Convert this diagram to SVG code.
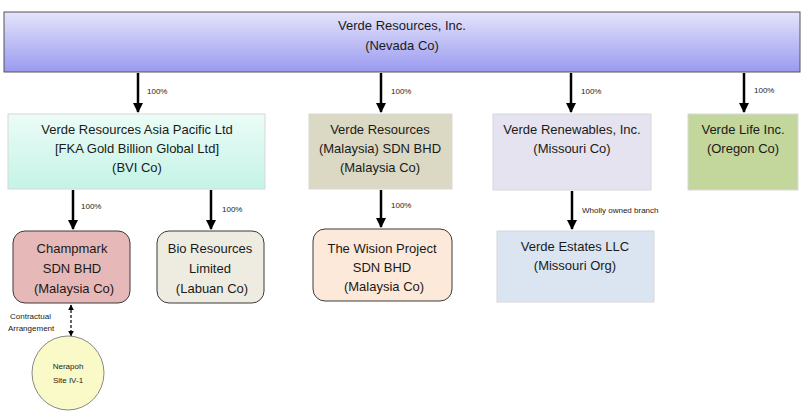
<svg xmlns="http://www.w3.org/2000/svg" width="806" height="417" viewBox="0 0 806 417">
<style>
text{font-family:"Liberation Sans",Arial,sans-serif;fill:#1a1a1a}
.t{font-size:13px;text-anchor:middle}
.s{font-size:8px}
.c{stroke:#000;stroke-width:2.5;fill:none}
.box{stroke:#d8d8d8;stroke-width:1}
.rb{stroke:#3a3a3a;stroke-width:1}
</style>
<defs>
<linearGradient id="gTop" x1="0" y1="0" x2="0" y2="1"><stop offset="0" stop-color="#e4e4fb"/><stop offset="1" stop-color="#9a9af0"/></linearGradient>
<linearGradient id="gAsia" x1="0" y1="0" x2="0" y2="1"><stop offset="0" stop-color="#ecfcf7"/><stop offset="1" stop-color="#c4f3e6"/></linearGradient>
<marker id="ah" viewBox="0 0 10 10" refX="9" refY="5" markerWidth="4" markerHeight="4" orient="auto"><path d="M0,0 L10,5 L0,10 z" fill="#000"/></marker>
<marker id="ahs" viewBox="0 0 10 10" refX="9" refY="5" markerWidth="5" markerHeight="5" orient="auto-start-reverse"><path d="M0,0 L10,5 L0,10 z" fill="#000"/></marker>
</defs>
<rect width="806" height="417" fill="#fff"/>
<g id="connectors">
<line class="c" x1="138" y1="73" x2="138" y2="112" marker-end="url(#ah)"/>
<line class="c" x1="381" y1="73" x2="381" y2="112" marker-end="url(#ah)"/>
<line class="c" x1="571" y1="73" x2="571" y2="112" marker-end="url(#ah)"/>
<line class="c" x1="744" y1="73" x2="744" y2="112" marker-end="url(#ah)"/>
<line class="c" x1="73" y1="190" x2="73" y2="229" marker-end="url(#ah)"/>
<line class="c" x1="211" y1="190" x2="211" y2="229" marker-end="url(#ah)"/>
<line class="c" x1="381" y1="190" x2="381" y2="227" marker-end="url(#ah)"/>
<line class="c" x1="572" y1="191" x2="572" y2="229" marker-end="url(#ah)"/>
<line x1="71" y1="305" x2="71" y2="336" stroke="#000" stroke-width="1.2" stroke-dasharray="3,2" marker-start="url(#ahs)" marker-end="url(#ahs)"/>
<text class="s" x="147" y="94">100%</text>
<text class="s" x="391" y="94">100%</text>
<text class="s" x="581" y="94">100%</text>
<text class="s" x="754" y="93">100%</text>
<text class="s" x="81" y="209">100%</text>
<text class="s" x="222" y="212">100%</text>
<text class="s" x="391" y="208">100%</text>
<text class="s" x="582" y="213">Wholly owned branch</text>
<text class="s" x="10" y="319">Contractual</text>
<text class="s" x="8" y="331">Arrangement</text>
</g>
<g id="n-verde"><rect x="4" y="12" width="796" height="60" fill="url(#gTop)" stroke="#555" stroke-width="1"/><text class="t" x="402" y="30" font-size="14">Verde Resources, Inc.</text><text class="t" x="402" y="50" font-size="14">(Nevada Co)</text></g>
<g id="n-asia"><rect class="box" x="8" y="114" width="257" height="75" fill="url(#gAsia)"/><text class="t" x="137" y="134">Verde Resources Asia Pacific Ltd</text><text class="t" x="137" y="153">[FKA Gold Billion Global Ltd]</text><text class="t" x="137" y="172">(BVI Co)</text></g>
<g id="n-malaysia"><rect class="box" x="309" y="114" width="143" height="75" fill="#dbd8c3"/><text class="t" x="380" y="134">Verde Resources</text><text class="t" x="380" y="153">(Malaysia) SDN BHD</text><text class="t" x="380" y="172">(Malaysia Co)</text></g>
<g id="n-renew"><rect class="box" x="493" y="114" width="158" height="76" fill="#e5e3ef"/><text class="t" x="572" y="134">Verde Renewables, Inc.</text><text class="t" x="572" y="153">(Missouri Co)</text></g>
<g id="n-life"><rect class="box" x="688" y="114" width="110" height="76" fill="#c3d69b"/><text class="t" x="743" y="134">Verde Life Inc.</text><text class="t" x="743" y="153">(Oregon Co)</text></g>
<g id="n-champ"><rect class="rb" x="13" y="231" width="117" height="72" rx="12" fill="#e6b9b8"/><text class="t" x="72" y="253">Champmark</text><text class="t" x="72" y="273">SDN BHD</text><text class="t" x="74" y="293">(Malaysia Co)</text></g>
<g id="n-bio"><rect class="rb" x="157" y="231" width="107" height="72" rx="12" fill="#eeece1"/><text class="t" x="210" y="253">Bio Resources</text><text class="t" x="210" y="273">Limited</text><text class="t" x="212" y="293">(Labuan Co)</text></g>
<g id="n-wision"><rect class="rb" x="313" y="229" width="139" height="72" rx="12" fill="#fde9d9"/><text class="t" x="382" y="253">The Wision Project</text><text class="t" x="382" y="272">SDN BHD</text><text class="t" x="384" y="291">(Malaysia Co)</text></g>
<g id="n-estates"><rect class="box" x="497" y="231" width="157" height="71" fill="#dbe5f1"/><text class="t" x="575" y="251">Verde Estates LLC</text><text class="t" x="575" y="270">(Missouri Org)</text></g>
<g id="n-nerapoh"><ellipse cx="68" cy="373" rx="36" ry="37" fill="#fafac8" stroke="#888" stroke-width="1"/><text class="s" x="68" y="369" text-anchor="middle">Nerapoh</text><text class="s" x="68" y="383" text-anchor="middle">Site IV-1</text></g>
</svg>
